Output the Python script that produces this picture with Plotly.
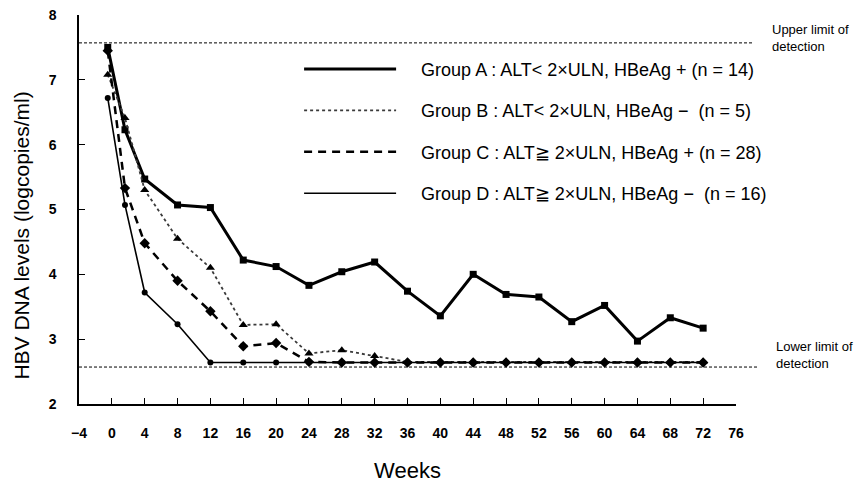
import plotly.graph_objects as go

weeks = [-0.5, 1.6, 4, 8, 12, 16, 20, 24, 28, 32, 36, 40, 44, 48, 52, 56, 60, 64, 68, 72]
group_a = [7.50, 6.23, 5.47, 5.07, 5.03, 4.22, 4.12, 3.83, 4.04, 4.19, 3.74, 3.36, 4.00, 3.69, 3.65, 3.27, 3.52, 2.97, 3.33, 3.17]
group_b = [7.08, 6.41, 5.30, 4.55, 4.10, 3.22, 3.23, 2.78, 2.83, 2.74, 2.65, 2.65, 2.65, 2.65, 2.65, 2.65, 2.65, 2.65, 2.65, 2.65]
group_c = [7.45, 5.33, 4.48, 3.90, 3.43, 2.89, 2.94, 2.65, 2.64, 2.64, 2.64, 2.64, 2.64, 2.64, 2.64, 2.64, 2.64, 2.64, 2.64, 2.64]
group_d = [6.72, 5.07, 3.72, 3.23, 2.64, 2.64, 2.64, 2.64, 2.64, 2.64, 2.64, 2.64, 2.64, 2.64, 2.64, 2.64, 2.64, 2.64, 2.64, 2.64]

legend_labels = [
    "Group A : ALT< 2\u00d7ULN, HBeAg + (n = 14)",
    "Group B : ALT< 2\u00d7ULN, HBeAg \u2212  (n = 5)",
    "Group C : ALT\u2267 2\u00d7ULN, HBeAg + (n = 28)",
    "Group D : ALT\u2267 2\u00d7ULN, HBeAg \u2212  (n = 16)",
]
upper_limit = 7.57
lower_limit = 2.57
x_ticks = list(range(-4, 77, 4))
y_ticks = list(range(2, 9))

series = [group_a, group_b, group_c, group_d]
styles = [
    dict(line=dict(color="black", width=3), marker=dict(symbol="square", size=7, color="black")),
    dict(line=dict(color="#3a3a3a", width=1.8, dash="dot"), marker=dict(symbol="triangle-up", size=8, color="black")),
    dict(line=dict(color="black", width=2.5, dash="8px,6px"), marker=dict(symbol="diamond", size=8, color="black")),
    dict(line=dict(color="black", width=1.6), marker=dict(symbol="circle", size=6, color="black")),
]

fig = go.Figure()
for vals, st in zip(series, styles):
    fig.add_trace(go.Scatter(x=weeks, y=vals, mode="lines+markers",
                             line=st["line"], marker=st["marker"], showlegend=False,
                             hoverinfo="skip"))
pad = "\u00a0" * 4
for i, (lab, st) in enumerate(zip(legend_labels, styles)):
    fig.add_trace(go.Scatter(x=[None], y=[None], mode="lines", line=st["line"],
                             name=pad + lab, legendgroup=str(i), showlegend=True))

# detection limit lines
for yv, xend in ((upper_limit, 1.027), (lower_limit, 1.035)):
    fig.add_shape(type="line", xref="paper", yref="y", x0=0, x1=xend,
                  y0=yv, y1=yv, line=dict(color="black", width=1, dash="3px,2px"))

fig.add_annotation(xref="paper", yref="y", x=1.052, y=upper_limit + 0.07,
                   text="Upper limit of<br>detection", showarrow=False, xanchor="left",
                   yanchor="middle", align="left",
                   font=dict(family="Liberation Sans, Arial", size=13, color="black"))
fig.add_annotation(xref="paper", yref="y", x=1.058, y=lower_limit + 0.19,
                   text="Lower limit of<br>detection", showarrow=False, xanchor="left",
                   yanchor="middle", align="left",
                   font=dict(family="Liberation Sans, Arial", size=13, color="black"))

# y-axis title placed as rotated text
fig.add_annotation(xref="paper", yref="y", x=-0.088, y=4.6, textangle=-90,
                   text="HBV DNA levels (logcopies/ml)", showarrow=False,
                   xanchor="center", yanchor="middle",
                   font=dict(family="Liberation Sans, Arial", size=21, color="black"))

tickfont = dict(family="Liberation Sans Narrow, Liberation Sans, Arial", size=14,
                color="black", weight="bold")
fig.update_layout(
    width=866, height=483, autosize=False,
    margin=dict(l=79, r=130, t=15, b=79),
    paper_bgcolor="white", plot_bgcolor="white",
    font=dict(family="Liberation Sans, Arial", color="black"),
    legend=dict(x=0.335, y=0.908, xanchor="left", yanchor="top",
                font=dict(family="Liberation Sans, Arial", size=18, color="black"),
                itemwidth=92, tracegroupgap=15, bgcolor="rgba(0,0,0,0)"),
    xaxis=dict(range=[-4, 76], tickvals=x_ticks, ticks="inside", ticklen=6,
               tickcolor="black", showline=True, linecolor="black", linewidth=1.5,
               showgrid=False, zeroline=False, tickfont=tickfont, ticklabelstandoff=15,
               automargin=False,
               title=dict(text="Weeks", font=dict(size=22, family="Liberation Sans, Arial"),
                          standoff=24)),
    yaxis=dict(range=[2, 8], tickvals=y_ticks, ticks="inside", ticklen=6,
               tickcolor="black", showline=True, linecolor="black", linewidth=1.5,
               showgrid=False, zeroline=False, tickfont=tickfont, ticklabelstandoff=18,
               automargin=False),
)

fig.write_html("out.html", config={"displayModeBar": False})
